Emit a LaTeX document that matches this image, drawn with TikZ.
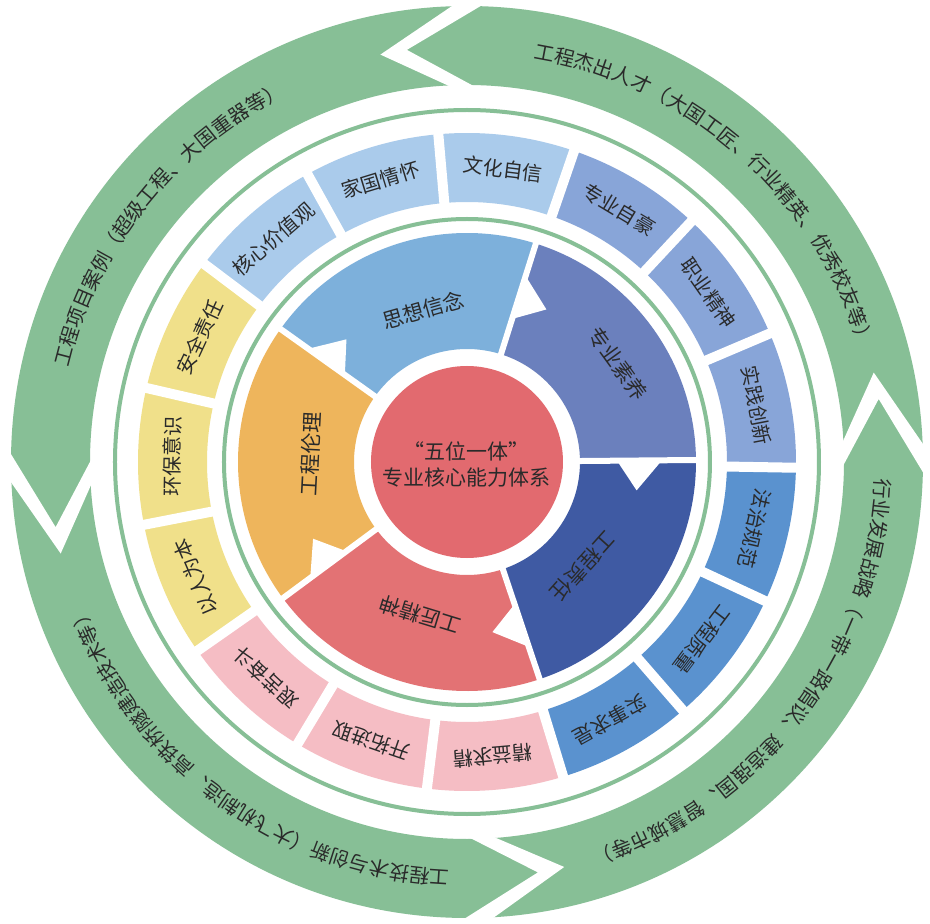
\documentclass[tikz,border=0pt]{standalone}
\usepackage{fontspec}
\setmainfont{Noto Sans CJK SC}
\usetikzlibrary{decorations.text}
\definecolor{ringgreen}{HTML}{87BF96}
\definecolor{segA}{HTML}{7DB0DB}
\definecolor{segB}{HTML}{6B80BD}
\definecolor{segC}{HTML}{3F5AA3}
\definecolor{segD}{HTML}{E37274}
\definecolor{segE}{HTML}{EEB55C}
\definecolor{corered}{HTML}{E26A6F}
\definecolor{boxlight}{HTML}{AACBEB}
\definecolor{boxmid}{HTML}{88A5D8}
\definecolor{boxblue}{HTML}{5A92CF}
\definecolor{boxpink}{HTML}{F5BDC4}
\definecolor{boxyellow}{HTML}{F0E08A}
\definecolor{textdark}{HTML}{2A2A2A}
\newcommand\ringfont{\color{textdark}\fontsize{20}{24}\selectfont}
\tikzset{
  boxlabel/.style={text=textdark, font=\fontsize{20}{24}\selectfont, inner sep=0pt},
  seglabel/.style={text=textdark, font=\fontsize{21}{25}\selectfont, inner sep=0pt},
  gapline/.style={white, line width=#1},
  ringtext/.style={decorate, decoration={text along path, text align=center, text={|\ringfont|#1}}}
}
\begin{document}
\begin{tikzpicture}[x=1pt,y=1pt]
\useasboundingbox (-467,-462) rectangle (463,462);
\fill[white] (-467,-462) rectangle (463,462);

% outer arrow ring
\fill[ringgreen,even odd rule] (0,0) circle[radius=456] (0,0) circle[radius=377];
\foreach \h in {8.7,98.3,189,279.8}{
  \fill[white] ({\h-11.5}:464) -- (\h:416.5) -- ({\h-11.5}:369) -- ({\h-7.9}:369)
     -- ({\h+3.7}:416.5) -- ({\h-7.9}:464) -- cycle;
}

% thin green rings
\draw[ringgreen,line width=4] (0,0) circle[radius=352];
\draw[ringgreen,line width=4] (0,0) circle[radius=243];

% outer boxes
\foreach \k/\col in {0/boxmid,1/boxmid,2/boxmid,3/boxlight,4/boxlight,5/boxlight,
   6/boxyellow,7/boxyellow,8/boxyellow,9/boxpink,10/boxpink,11/boxpink,
   12/boxblue,13/boxblue,14/boxblue}{
  \pgfmathsetmacro\a{-1+24*\k}
  \pgfmathsetmacro\b{\a+24}
  \fill[\col] (\a:260) arc[start angle=\a,end angle=\b,radius=260]
     -- (\b:329) arc[start angle=\b,end angle=\a,radius=329] -- cycle;
}
\foreach \k in {0,...,14}{
  \draw[gapline=10] ({-1+24*\k}:250) -- ({-1+24*\k}:341);
}
\node[boxlabel,rotate=-79] (b1) at (11:295) {实践创新};
\node[boxlabel,rotate=-55] (b2) at (35:295) {职业精神};
\node[boxlabel,rotate=-31] (b3) at (59:295) {专业自豪};
\node[boxlabel,rotate=-7] (b4) at (83:295) {文化自信};
\node[boxlabel,rotate=17] (b5) at (107:295) {家国情怀};
\node[boxlabel,rotate=41] (b6) at (131:295) {核心价值观};
\node[boxlabel,rotate=65] (b7) at (155:295) {安全责任};
\node[boxlabel,rotate=89] (b8) at (179:295) {环保意识};
\node[boxlabel,rotate=113] (b9) at (203:295) {以人为本};
\node[boxlabel,rotate=137] (b10) at (227:295) {艰苦奋斗};
\node[boxlabel,rotate=161] (b11) at (251:295) {开拓进取};
\node[boxlabel,rotate=185] (b12) at (275:295) {精益求精};
\node[boxlabel,rotate=209] (b13) at (299:295) {实事求是};
\node[boxlabel,rotate=233] (b14) at (323:295) {工程质量};
\node[boxlabel,rotate=257] (b15) at (347:295) {法治规范};

% inner segments
\foreach \a/\b/\col in {0.5/72.5/segB,72.5/144.5/segA,144.5/216.5/segE,216.5/288.5/segD,288.5/360.5/segC}{
  \fill[\col] (\a:113) arc[start angle=\a,end angle=\b,radius=113]
     -- (\b:229) arc[start angle=\b,end angle=\a,radius=229] -- cycle;
  \fill[white] (\b:150) -- ({\b-10}:172) -- (\b:195) -- cycle;
}
\foreach \a in {0.5,72.5,144.5,216.5,288.5}{
  \draw[gapline=6] (\a:104) -- (\a:236);
}
\node[seglabel,rotate=16] (s1) at (106:158) {思想信念};
\node[seglabel,rotate=-54] (s2) at (33:180) {专业素养};
\node[seglabel,rotate=-132] (s3) at (-42:156) {工程责任};
\node[seglabel,rotate=163] (s4) at (253:160) {工匠精神};
\node[seglabel,rotate=87] (s5) at (177:157) {工程伦理};

% core
\fill[corered] (0,0) circle[radius=96];
\node[seglabel,align=center] (core) at (0,-2) {“五位一体”\\[1pt]专业核心能力体系};

% ring texts
\path[ringtext={工程杰出人才（大国工匠、行业精英、优秀校友等）}] (88.4:409) arc[start angle=88.4,end angle=8.4,radius=409];
\path[ringtext={工程项目案例（超级工程、大国重器等）}] (176.5:409) arc[start angle=176.5,end angle=106.5,radius=409];
\path[ringtext={工程技术与创新（大飞机制造、高铁桥隧建造技术等）}] (274:409) arc[start angle=274,end angle=194,radius=409];
\path[ringtext={行业发展战略（一带一路倡议、建造强国、智慧城市等）}] (362.7:409) arc[start angle=362.7,end angle=282.7,radius=409];
\end{tikzpicture}
\end{document}
